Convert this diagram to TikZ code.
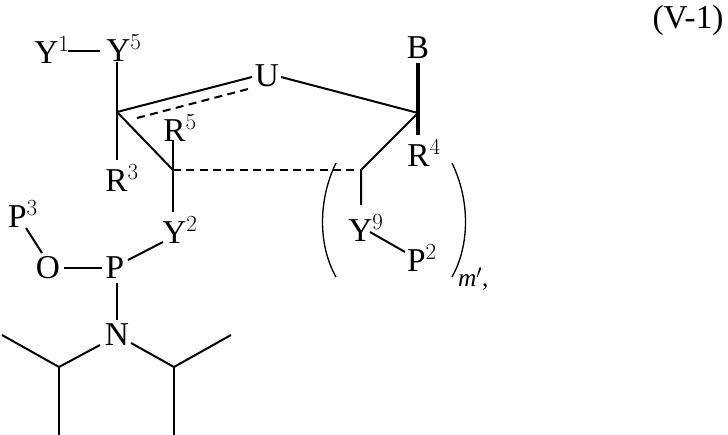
\documentclass[tikz,border=0pt]{standalone}
\usepackage{fontspec}
\setmainfont{Liberation Serif}
\begin{document}
\begin{tikzpicture}[x=0.75pt,y=-0.75pt,line width=1.5pt,
  lbl/.style={inner sep=0pt,font=\fontsize{25}{28}\selectfont}]
\useasboundingbox (0,0) rectangle (728,435);
\node[lbl] at (688,20) {(V-1)};
\node[lbl] (y1) at (52,50) {Y$^1$};
\node[lbl] (y5) at (124,48) {Y$^5$};
\node[lbl] (u) at (267,76) {U};
\node[lbl] (b) at (418,48) {B};
\node[lbl] (r4) at (424,153) {R$^4$};
\node[lbl] (r3) at (122,178) {R$^3$};
\node[lbl] (r5) at (180,128) {R$^5$};
\node[lbl] (y2) at (180,230) {Y$^2$};
\node[lbl] (y9) at (366,228) {Y$^9$};
\node[lbl] (p2) at (422,258) {P$^2$};
\node[lbl] (p3) at (23,214) {P$^3$};
\node[lbl] (o) at (48,268) {O};
\node[lbl] (p) at (115,268) {P};
\node[lbl] (n) at (117,335) {N};
\node[lbl,anchor=west] (m) at (457,279) {\fontsize{19}{22}\selectfont\itshape m$'$\upshape,};
\coordinate (c1) at (117,112);
\coordinate (c2) at (173,170);
\coordinate (c3) at (361,170);
\coordinate (c4) at (418,113);
\coordinate (bl) at (59,367);
\coordinate (br) at (174,367);
\draw (68,51) -- (100,51);
\draw (117,62) -- (c1) -- (117,160);
\draw (c1) -- (252,77);
\draw[dashed,dash pattern=on 6pt off 4pt] (137,118) -- (252,88);
\draw (281,77) -- (c4);
\draw[line width=2.4pt] (418,63) -- (418,135);
\draw (c1) -- (c2);
\draw (173,140) -- (c2) -- (173,212);
\draw[dashed,dash pattern=on 6pt off 4pt] (c2) -- (c3);
\draw (c4) -- (c3) -- (361,205);
\draw (370,232) -- (405,252);
\draw[line width=1pt] (336,163) .. controls (318,200) and (318,245) .. (336,277);
\draw[line width=1pt] (452,163) .. controls (470,200) and (470,245) .. (452,277);
\draw (26,228) -- (42,253);
\draw (64,268) -- (102,268);
\draw (128,260) -- (163,242);
\draw (117,283) -- (117,320);
\draw (100,345) -- (bl) -- (2,335);
\draw (bl) -- (59,435);
\draw (131,343) -- (br) -- (231,335);
\draw (br) -- (174,435);
\end{tikzpicture}
\end{document}
